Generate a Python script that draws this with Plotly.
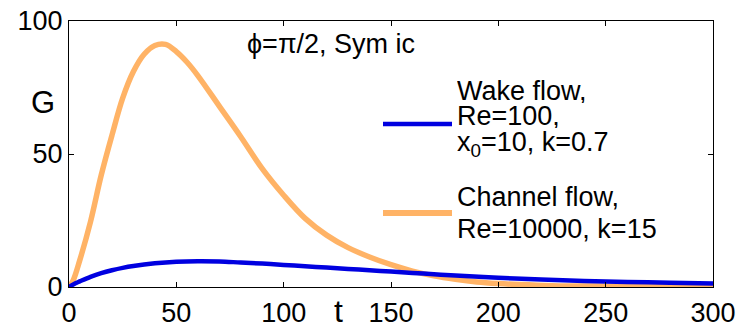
import plotly.graph_objects as go

# Data
t_channel = [0, 2, 5, 10, 15, 20, 25, 30, 35, 40, 45, 50, 55, 60, 70, 80, 90, 100, 110,
             120, 130, 140, 150, 160, 170, 180, 190, 200, 210, 225, 250, 275, 300]
g_channel = [0, 2.6, 10, 24.5, 42, 57, 71, 81, 87.5, 90.8, 91.2, 88.5, 84.5, 79.5, 68,
             56.5, 44.5, 34.5, 25.8, 19.5, 14.8, 11.3, 8.4, 6, 4.2, 2.9, 1.9, 1.3, 0.9,
             0.5, 0.3, 0.2, 0.2]

t_wake = [0, 3, 5, 10, 15, 20, 25, 30, 40, 50, 60, 70, 80, 90, 100, 110, 120, 130, 140,
          150, 160, 170, 180, 200, 220, 240, 260, 280, 300]
g_wake = [0, 1.4, 2.1, 3.8, 5.2, 6.3, 7.2, 7.9, 8.9, 9.5, 9.7, 9.6, 9.2, 8.8, 8.3, 7.8,
          7.3, 6.8, 6.3, 5.8, 5.3, 4.8, 4.3, 3.5, 2.8, 2.3, 1.9, 1.6, 1.3]

x_ticks = [0, 50, 100, 150, 200, 250, 300]
y_ticks = [0, 50, 100]

BLUE = "#0000E0"
ORANGE = "#FFB366"
FONT = "Liberation Sans, Arial, sans-serif"
FS = 27

W, H = 740, 330
L, R, T, B = 69, 27, 21, 43
PW, PH = W - L - R, H - T - B


def px(x):
    return (x - L) / PW


def py(y):
    return (H - B - y) / PH


fig = go.Figure()
fig.add_trace(go.Scatter(x=t_channel, y=g_channel, mode="lines", line_shape="spline",
                         line=dict(color=ORANGE, width=5.5), showlegend=False))
fig.add_trace(go.Scatter(x=t_wake, y=g_wake, mode="lines", line_shape="spline",
                         line=dict(color=BLUE, width=4.5), showlegend=False))

axis_common = dict(showgrid=False, zeroline=False, showline=True, linecolor="black",
                   linewidth=1, mirror="ticks", ticks="inside", ticklen=5,
                   tickcolor="black", automargin=False,
                   tickfont=dict(family=FONT, size=FS, color="black"))

fig.update_xaxes(range=[0, 300], tickvals=x_ticks, ticktext=[str(v) for v in x_ticks],
                 ticklabelstandoff=2, **axis_common)
fig.update_yaxes(range=[0, 100], tickvals=y_ticks, ticktext=[str(v) for v in y_ticks],
                 **axis_common)

shapes = [
    dict(type="line", xref="paper", yref="paper", x0=px(383), x1=px(452), y0=py(124), y1=py(124),
         line=dict(color=BLUE, width=4.5)),
    dict(type="line", xref="paper", yref="paper", x0=px(383), x1=px(452), y0=py(213), y1=py(213),
         line=dict(color=ORANGE, width=6)),
]

annotations = []


def txt(text, x, y, size=FS, anchor="left", h=None):
    a = dict(text=text, xref="paper", yref="paper", x=px(x), y=py(y),
             xanchor=anchor, yanchor="middle", showarrow=False, borderpad=0,
             font=dict(family=FONT, size=size, color="black"))
    if h:
        a["height"] = h
    annotations.append(a)


txt("ϕ=π/2, Sym ic", 246, 44)
txt("Wake flow,", 456, 91, h=24)
txt("Re=100,", 456, 116, h=24)
txt("x<sub>0</sub>=10, k=0.7", 456, 144, h=26)
txt("Channel flow,", 456, 197, h=30)
txt("Re=10000, k=15", 456, 229, h=30)
txt("G", 43, 102, size=31, anchor="center")
txt("t", 338, 311, size=32, anchor="center")

fig.update_layout(width=W, height=H, margin=dict(l=L, r=R, t=T, b=B, pad=0, autoexpand=False),
                  paper_bgcolor="white", plot_bgcolor="white",
                  shapes=shapes, annotations=annotations, showlegend=False)

fig.write_html("out.html")
